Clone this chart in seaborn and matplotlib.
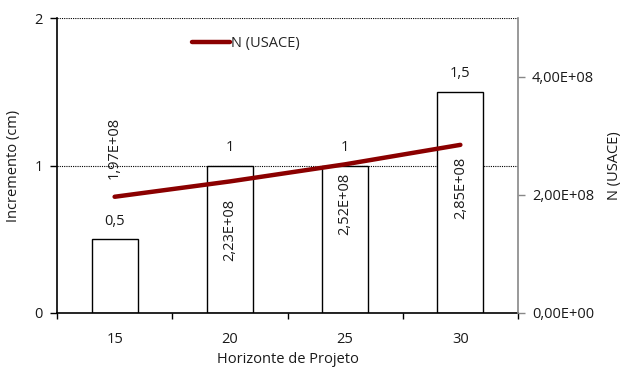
import matplotlib
matplotlib.use("Agg")
import matplotlib.pyplot as plt
import matplotlib.ticker as mticker
import seaborn as sns
import pandas as pd

# Horizonte de projeto (anos), incremento de espessura e número N
horizontes = ["15", "20", "25", "30"]
incremento = [0.5, 1.0, 1.0, 1.5]
incremento_rotulos = ["0,5", "1", "1", "1,5"]
n_usace = [1.97e8, 2.23e8, 2.52e8, 2.85e8]
n_rotulos = ["1,97E+08", "2,23E+08", "2,52E+08", "2,85E+08"]
n_ticks = [0, 2e8, 4e8]
n_tick_rotulos = ["0,00E+00", "2,00E+08", "4,00E+08"]

sns.set_theme(style="white")
plt.rcParams["font.family"] = ["Open Sans", "DejaVu Sans"]
FS = 10.5
TXT = "#1a1a1a"

df = pd.DataFrame({"h": horizontes, "inc": incremento})

fig = plt.figure(figsize=(6.26, 3.72), dpi=100)
ax = fig.add_axes([57 / 626, 1 - 313 / 372, 461 / 626, 295 / 372])

sns.barplot(data=df, x="h", y="inc", ax=ax, color="white", edgecolor="black",
            linewidth=1.0, width=0.4, saturation=1)
ax.set_xlim(-0.5, 3.5)
ax.set_ylim(0, 2)
ax.set_yticks([0, 1, 2])
ax.set_yticklabels(["0", "1", "2"], fontsize=FS, color=TXT)
for y in (1, 2):
    ax.axhline(y, color="black", lw=0.8, ls=(0, (1, 1)), zorder=0)

for i, (v, t) in enumerate(zip(incremento, incremento_rotulos)):
    ax.text(i, v + 0.07, t, ha="center", va="bottom", fontsize=FS, color=TXT)

ax.set_xlabel("Horizonte de Projeto", fontsize=FS, color=TXT, labelpad=3)
ax.set_ylabel("Incremento (cm)", fontsize=FS, color=TXT, labelpad=10)

ax.xaxis.set_minor_locator(mticker.FixedLocator([-0.5, 0.5, 1.5, 2.5, 3.5]))
ax.tick_params(axis="x", which="major", length=0, pad=14, labelsize=FS, labelcolor=TXT)
ax.tick_params(axis="x", which="minor", length=4, width=1, color="black", direction="out", bottom=True)
ax.tick_params(axis="y", length=5, width=1, color="black", direction="out", left=True, pad=5)
for s in ("top", "right"):
    ax.spines[s].set_visible(False)
for s in ("left", "bottom"):
    ax.spines[s].set_color("black")
    ax.spines[s].set_linewidth(1.2)

ax2 = ax.twinx()
ax2.plot(range(len(horizontes)), n_usace, color="#8b0000", lw=3.2, label="N (USACE)")
ax2.set_ylim(0, 5e8)
ax2.set_yticks(n_ticks)
ax2.set_yticklabels(n_tick_rotulos, fontsize=FS, color=TXT)
ax2.tick_params(axis="y", length=5, width=1, color="#888888", direction="out", right=True, pad=5)
for s in ("top", "left", "bottom"):
    ax2.spines[s].set_visible(False)
ax2.spines["right"].set_color("#888888")
ax2.spines["right"].set_linewidth(1.2)
fig.text(607 / 626, 0.5 * (1 - 313 / 372) + 0.5 * (1 - 18 / 372), "N (USACE)",
         rotation=90, ha="left", va="center", fontsize=FS, color=TXT)

# rótulos do número N, girados
offsets = [0.30e8, -0.29e8, -0.15e8, -0.20e8]
for i, (v, t, o) in enumerate(zip(n_usace, n_rotulos, offsets)):
    ax2.text(i, v + o, t, rotation=90, ha="center",
             va="bottom" if o > 0 else "top", fontsize=FS, color=TXT)

ax2.legend(loc="center left", bbox_to_anchor=((192 - 57) / 461, (313 - 44) / 295),
           frameon=False, fontsize=FS, handlelength=2.6, handletextpad=0.05,
           borderpad=0, borderaxespad=0)

fig.savefig("out.png", dpi=100)
